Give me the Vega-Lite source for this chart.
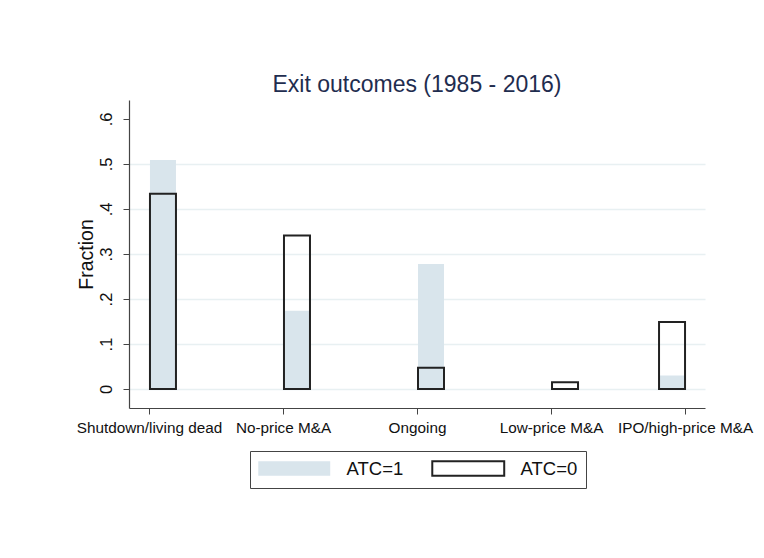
{
  "$schema": "https://vega.github.io/schema/vega-lite/v6.json",
  "autosize": "none",
  "width": 576,
  "height": 308,
  "padding": {"left": 129, "top": 100, "right": 59, "bottom": 150},
  "background": "white",
  "config": {
    "font": "Liberation Sans",
    "view": {"stroke": null}
  },
  "title": {
    "text": "Exit outcomes (1985 - 2016)",
    "fontSize": 23,
    "fontWeight": "normal",
    "color": "#1f2d4f",
    "font": "Liberation Sans",
    "anchor": "middle",
    "offset": 3
  },
  "data": {
    "values": [
      {"outcome": "Shutdown/living dead", "group": "ATC=1", "fraction": 0.509},
      {"outcome": "No-price M&A", "group": "ATC=1", "fraction": 0.174},
      {"outcome": "Ongoing", "group": "ATC=1", "fraction": 0.278},
      {"outcome": "Low-price M&A", "group": "ATC=1", "fraction": 0.0},
      {"outcome": "IPO/high-price M&A", "group": "ATC=1", "fraction": 0.03},
      {"outcome": "Shutdown/living dead", "group": "ATC=0", "fraction": 0.434},
      {"outcome": "No-price M&A", "group": "ATC=0", "fraction": 0.341},
      {"outcome": "Ongoing", "group": "ATC=0", "fraction": 0.047},
      {"outcome": "Low-price M&A", "group": "ATC=0", "fraction": 0.015},
      {"outcome": "IPO/high-price M&A", "group": "ATC=0", "fraction": 0.149}
    ]
  },
  "mark": {
    "type": "bar",
    "size": 26,
    "strokeWidth": 2,
    "strokeJoin": "miter",
    "xOffset": {"expr": "datum.outcome == 'IPO/high-price M&A' ? -13 : 14"}
  },
  "encoding": {
    "x": {
      "field": "outcome",
      "type": "nominal",
      "sort": ["Shutdown/living dead", "No-price M&A", "Ongoing", "Low-price M&A", "IPO/high-price M&A"],
      "scale": {"type": "point", "padding": 0.149},
      "axis": {
        "title": null,
        "labelAngle": 0,
        "labelFontSize": 15.3,
        "labelColor": "#111",
        "labelPadding": 6,
        "domainColor": "#444",
        "domainWidth": 1.2,
        "tickColor": "#444",
        "tickSize": 6,
        "grid": false
      }
    },
    "y": {
      "field": "fraction",
      "type": "quantitative",
      "stack": null,
      "scale": {"domain": [-0.0422, 0.6422], "nice": false, "zero": false},
      "axis": {
        "title": "Fraction",
        "titleFontSize": 19.5,
        "titleFontWeight": "normal",
        "titleColor": "#111",
        "titlePadding": 2,
        "values": [0, 0.1, 0.2, 0.3, 0.4, 0.5, 0.6],
        "labelExpr": "datum.value == 0 ? '0' : replace(format(datum.value, '.1f'), '0.', '.')",
        "labelAngle": -90,
        "labelAlign": "center",
        "labelBaseline": "bottom",
        "labelFontSize": 16.5,
        "labelColor": "#111",
        "labelPadding": 9,
        "domainColor": "#444",
        "domainWidth": 1.2,
        "tickColor": "#444",
        "tickSize": 6,
        "grid": true,
        "gridColor": "#e8f0f2",
        "gridWidth": 1.5,
        "gridOpacity": {"condition": {"test": "datum.value >= 0.55", "value": 0}, "value": 1}
      }
    },
    "fill": {
      "field": "group",
      "type": "nominal",
      "scale": {"domain": ["ATC=1", "ATC=0"], "range": ["#d9e5ec", "rgba(255,255,255,0)"]},
      "legend": {
        "title": null,
        "orient": "none",
        "legendX": 121,
        "legendY": 351,
        "direction": "horizontal",
        "symbolType": "M-5,-1H5V1H-5Z",
        "symbolSize": 207,
        "symbolOffset": 27,
        "symbolStrokeWidth": 2,
        "labelFontSize": 18.5,
        "labelColor": "#111",
        "labelOffset": 43,
        "columnPadding": 24,
        "padding": 8,
        "strokeColor": "#444",
        "fillColor": "white"
      }
    },
    "stroke": {
      "field": "group",
      "type": "nominal",
      "scale": {"domain": ["ATC=1", "ATC=0"], "range": ["rgba(0,0,0,0)", "#222"]},
      "legend": {
        "title": null,
        "orient": "none",
        "legendX": 121,
        "legendY": 351,
        "direction": "horizontal",
        "symbolType": "M-5,-1H5V1H-5Z",
        "symbolSize": 207,
        "symbolOffset": 27,
        "symbolStrokeWidth": 2,
        "labelFontSize": 18.5,
        "labelColor": "#111",
        "labelOffset": 43,
        "columnPadding": 24,
        "padding": 8,
        "strokeColor": "#444",
        "fillColor": "white"
      }
    },
    "order": {"field": "group", "sort": "descending"}
  }
}
